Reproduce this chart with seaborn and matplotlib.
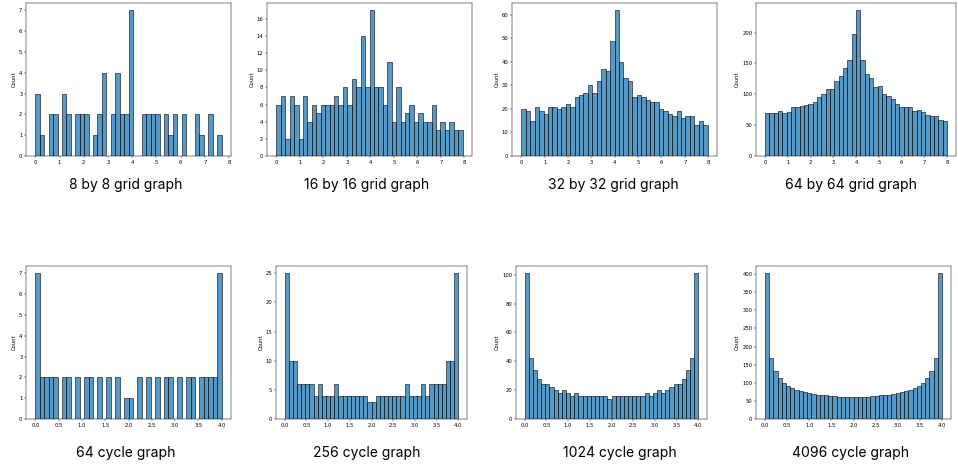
import numpy as np
import pandas as pd
import seaborn as sns
import matplotlib.pyplot as plt
from matplotlib.ticker import MultipleLocator

# bar heights, 42 bins per histogram
grid_8 = [3, 1, 0, 2, 2, 0, 3, 2, 0, 2, 2, 2, 0, 1, 2, 4, 0, 2, 4, 2, 2,
          7, 0, 0, 2, 2, 2, 2, 0, 2, 1, 2, 0, 2, 0, 0, 2, 1, 0, 2, 0, 1]
grid_16 = [6, 7, 2, 7, 6, 2, 7, 4, 6, 5, 6, 6, 6, 7, 6, 8, 6, 9, 8, 14, 8,
           17, 8, 8, 6, 11, 4, 8, 4, 5, 6, 4, 5, 4, 4, 6, 3, 4, 3, 4, 3, 3]
grid_32 = [20, 19, 15, 21, 19, 18, 21, 21, 20, 21, 22, 21, 25, 26, 27, 30, 27,
           32, 37, 36, 49, 62, 40, 33, 32, 25, 26, 25, 24, 23, 23, 20, 19, 18,
           17, 19, 16, 17, 17, 13, 15, 13]
grid_64 = [70, 70, 69, 73, 70, 71, 80, 79, 81, 83, 85, 87, 96, 100, 108, 108,
           122, 129, 142, 155, 197, 236, 155, 132, 127, 111, 113, 100, 97, 93,
           85, 79, 79, 79, 73, 74, 71, 66, 65, 64, 59, 56]

cycle_64 = [7, 2, 2, 2, 2, 0, 2, 2, 0, 2, 0, 2, 2, 0, 2, 0, 2, 0, 2, 0, 1,
            1, 0, 2, 0, 2, 0, 2, 0, 2, 2, 0, 2, 0, 2, 2, 0, 2, 2, 2, 2, 7]
cycle_256 = [25, 10, 10, 6, 6, 6, 6, 4, 6, 4, 4, 4, 6, 4, 4, 4, 4, 4, 4, 4, 3,
             3, 4, 4, 4, 4, 4, 4, 4, 6, 4, 4, 4, 6, 4, 6, 6, 6, 6, 10, 10, 25]
cycle_1024 = [101, 42, 34, 28, 24, 24, 22, 20, 18, 20, 18, 16, 18, 16, 16, 16,
              16, 16, 16, 16, 14, 16, 16, 16, 16, 16, 16, 16, 16, 18, 16, 18,
              20, 18, 20, 22, 24, 24, 28, 34, 42, 101]
cycle_4096 = [402, 169, 133, 113, 100, 92, 86, 81, 77, 74, 71, 69, 67, 66, 65,
              64, 63, 62, 62, 62, 62, 62, 62, 62, 62, 63, 64, 65, 66, 67, 69,
              71, 74, 77, 81, 86, 92, 100, 113, 133, 169, 402]

# largest eigenvalue = right end of the bin range
grid_max = [7.696, 7.923, 7.981, 7.995]
cycle_max = [4.0, 4.0, 4.0, 4.0]

grid_titles = ["8 by 8 grid graph", "16 by 16 grid graph",
               "32 by 32 grid graph", "64 by 64 grid graph"]
cycle_titles = ["64 cycle graph", "256 cycle graph",
                "1024 cycle graph", "4096 cycle graph"]

grid_xticks = [0, 1, 2, 3, 4, 5, 6, 7, 8]
cycle_xticks = [0.0, 0.5, 1.0, 1.5, 2.0, 2.5, 3.0, 3.5, 4.0]
grid_ystep = [1, 2, 10, 50]
cycle_ystep = [1, 5, 20, 50]

n_bins = 42

W, H = 958, 466
fig = plt.figure(figsize=(W / 100, H / 100), dpi=100)

# axes boxes in pixels: left, right
top_boxes = [(26, 231), (267, 472), (512, 717), (756, 956)]
bottom_boxes = [(26, 231), (276, 467), (516, 707), (756, 951)]
top_caption_x = [126, 367, 613, 851]
bottom_caption_x = [126, 367, 620, 851]


def draw(box, y0, y1, counts, hi, xticks, ystep):
    ax = fig.add_axes([box[0] / W, 1 - y1 / H, (box[1] - box[0]) / W, (y1 - y0) / H])
    edges = np.linspace(0, hi, n_bins + 1)
    df = pd.DataFrame({"value": (edges[:-1] + edges[1:]) / 2, "count": counts})
    sns.histplot(data=df, x="value", weights="count", bins=n_bins,
                 binrange=(0, hi), ax=ax, linewidth=0.4)
    ax.set_xticks(xticks)
    ax.yaxis.set_major_locator(MultipleLocator(ystep))
    ax.set_xlabel("")
    ax.set_ylabel("Count", fontsize=3.8, labelpad=1.5)
    ax.tick_params(labelsize=3.8, length=1.3, width=0.3, pad=1.3)
    for s in ax.spines.values():
        s.set_linewidth(0.35)
    return ax


data_top = [grid_8, grid_16, grid_32, grid_64]
data_bottom = [cycle_64, cycle_256, cycle_1024, cycle_4096]

for i in range(4):
    draw(top_boxes[i], 3, 156, data_top[i], grid_max[i], grid_xticks, grid_ystep[i])
    draw(bottom_boxes[i], 266, 419, data_bottom[i], cycle_max[i], cycle_xticks, cycle_ystep[i])
    fig.text(top_caption_x[i] / W, 1 - 185 / H, grid_titles[i], ha="center",
             va="center", fontsize=10, family=["Inter", "DejaVu Sans"])
    fig.text(bottom_caption_x[i] / W, 1 - 453 / H, cycle_titles[i], ha="center",
             va="center", fontsize=10, family=["Inter", "DejaVu Sans"])

fig.savefig("out.png", dpi=100)
